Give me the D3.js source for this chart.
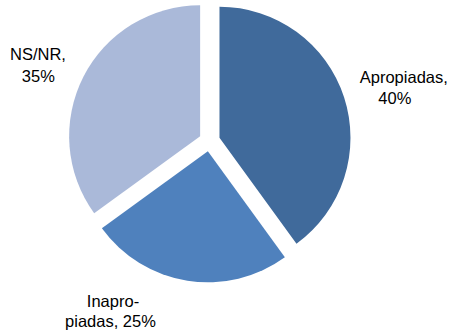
<!DOCTYPE html>
<html>
<head>
<meta charset="utf-8">
<script src="https://cdn.jsdelivr.net/npm/d3@7"></script>
<style>
    html, body { margin: 0; padding: 0; background: #fff; }
    svg { display: block; }
    text { font-family: "Liberation Sans", Arial, sans-serif; font-size: 16.5px; fill: #000; }
</style>
</head>
<body>
<svg id="svg" width="451" height="332"></svg>
<script>
// chart data
const categories = ["Apropiadas", "Inapropiadas", "NS/NR"];
const values = [40, 25, 35];
const labelLines = [["Apropiadas,", "40%"], ["Inapro-", "piadas, 25%"], ["NS/NR,", "35%"]];
const colors = ["#406A9B", "#4F81BD", "#AAB9D9"];

const width = 451, height = 332;
const cx = 209.5, cy = 141, radius = 131, explode = 10.5;

// label anchor for each line (x center, baseline y)
const labelLayout = [
    [[403.8, 83.3], [394.8, 104.3]],
    [[113, 307], [110.5, 326.5]],
    [[38, 60], [38.3, 81.7]]
];

const svg = d3.select("#svg");

const pie = d3.pie()
    .sort(null)
    .value(d => d.value);

const arc = d3.arc()
    .innerRadius(0)
    .outerRadius(radius);

const data = categories.map((c, i) => ({ name: c, value: values[i], color: colors[i], lines: labelLines[i] }));
const arcs = pie(data);

const g = svg.append("g")
    .attr("transform", "translate(" + cx + "," + cy + ")");

g.selectAll("path")
    .data(arcs)
    .join("path")
    .attr("d", arc)
    .attr("fill", d => d.data.color)
    .attr("transform", d => {
        const mid = (d.startAngle + d.endAngle) / 2;
        return "translate(" + (Math.sin(mid) * explode) + "," + (-Math.cos(mid) * explode) + ")";
    });

// labels
arcs.forEach((d, i) => {
    const t = svg.append("text").attr("text-anchor", "middle");
    d.data.lines.forEach((line, j) => {
        t.append("tspan")
            .attr("x", labelLayout[i][j][0])
            .attr("y", labelLayout[i][j][1])
            .text(line);
    });
});
</script>
</body>
</html>
